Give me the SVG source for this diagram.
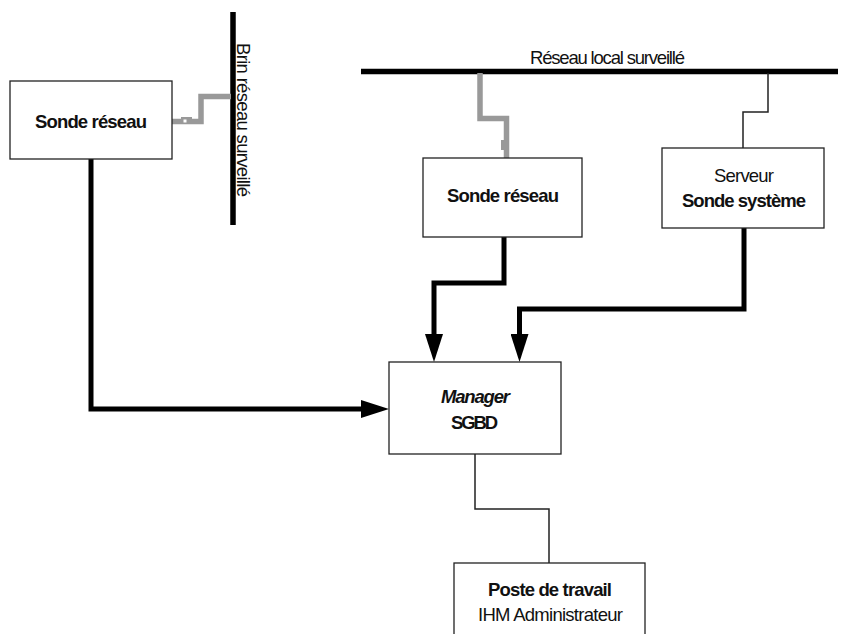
<svg xmlns="http://www.w3.org/2000/svg" width="849" height="634" viewBox="0 0 849 634">
  <style>
    text { font-family: "Liberation Sans", Arial, sans-serif; font-size: 18.5px; fill: #111; }
    .b { font-weight: bold; }
    .bi { font-weight: bold; font-style: italic; }
    .mid { text-anchor: middle; }
    .box { fill: #fff; stroke: #222; stroke-width: 1.3; }
    .bus { fill: none; stroke: #000; stroke-width: 5.5; }
    .tap { fill: none; stroke: #999; stroke-width: 5.5; stroke-linejoin: miter; }
    .flow { fill: none; stroke: #000; stroke-width: 5; stroke-linejoin: miter; }
    .thin { fill: none; stroke: #222; stroke-width: 1.5; }
  </style>
  <defs>
    <marker id="head" viewBox="0 -9 28 18" refX="0" refY="0" markerWidth="28" markerHeight="18" markerUnits="userSpaceOnUse" orient="auto">
      <path d="M0,-9 L28,0 L0,9 Z" fill="#000"/>
    </marker>
  </defs>

  <!-- network segments -->
  <g id="brin">
    <path class="bus" d="M233,12 V225"/>
    <text transform="translate(237,43) rotate(90)" x="0" y="0" textLength="154" lengthAdjust="spacing">Brin réseau surveillé</text>
  </g>
  <g id="reseau-local">
    <path class="bus" d="M361,71.5 H838"/>
    <text x="530" y="64" textLength="155" lengthAdjust="spacing">Réseau local surveillé</text>
  </g>

  <!-- connectors -->
  <g id="connectors">
    <!-- probe taps (grey) -->
    <path class="tap" d="M172,121.5 H201 V96.5 H231"/>
    <rect x="181" y="117" width="11" height="5" fill="#999"/>
    <rect x="183.5" y="119.5" width="3" height="3" fill="#fff"/>
    <path class="tap" d="M480,73 V118.5 H506.5 V158"/>
    <rect x="501" y="140" width="3" height="10" fill="#999"/>
    <!-- plain links -->
    <path class="thin" d="M768,73 V112 H743 V148"/>
    <path class="thin" d="M475,454 V509 H549 V563"/>
    <!-- data flows to the manager -->
    <path class="flow" d="M91,159 V409 H361" marker-end="url(#head)"/>
    <path class="flow" d="M504,237 V283 H434 V334" marker-end="url(#head)"/>
    <path class="flow" d="M744,228 V309 H519.5 V334" marker-end="url(#head)"/>
  </g>

  <!-- nodes -->
  <g id="sonde-reseau-1">
    <rect class="box" x="10" y="81" width="162" height="78"/>
    <text class="b" x="35" y="128" textLength="112" lengthAdjust="spacing">Sonde réseau</text>
  </g>
  <g id="sonde-reseau-2">
    <rect class="box" x="423" y="158" width="159" height="79"/>
    <text class="b" x="447" y="202" textLength="112" lengthAdjust="spacing">Sonde réseau</text>
  </g>
  <g id="serveur">
    <rect class="box" x="662" y="148" width="162" height="80"/>
    <text x="714" y="182" textLength="60" lengthAdjust="spacing">Serveur</text>
    <text class="b" x="682" y="207" textLength="124" lengthAdjust="spacing">Sonde système</text>
  </g>
  <g id="manager">
    <rect class="box" x="389" y="362" width="172" height="92"/>
    <text class="bi" x="441" y="403" textLength="69" lengthAdjust="spacing">Manager</text>
    <text class="b" x="451" y="429" textLength="47" lengthAdjust="spacing">SGBD</text>
  </g>
  <g id="poste">
    <rect class="box" x="454" y="563" width="191" height="80"/>
    <text class="b" x="488" y="596" textLength="124" lengthAdjust="spacing">Poste de travail</text>
    <text x="478" y="621" textLength="145" lengthAdjust="spacing">IHM Administrateur</text>
  </g>
</svg>
